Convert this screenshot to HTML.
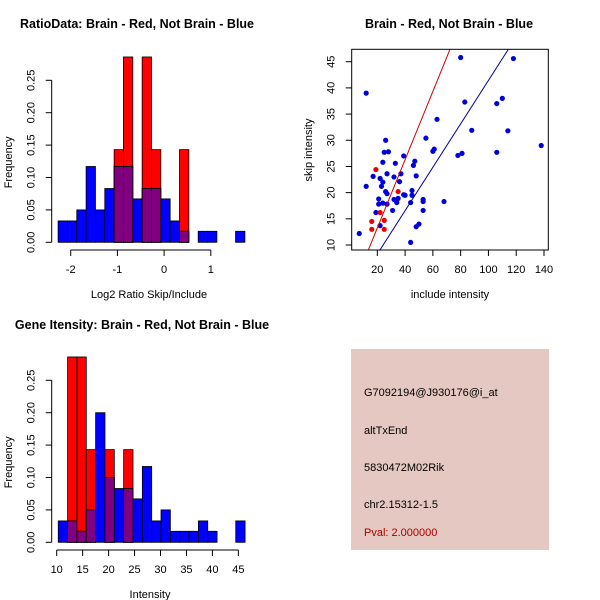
<!DOCTYPE html>
<html><head><meta charset="utf-8"><style>
body{margin:0;background:#fff;}
svg{display:block;font-family:"Liberation Sans",sans-serif;}
</style></head><body>
<svg id="c" width="600" height="600" xmlns="http://www.w3.org/2000/svg"></svg>
<script>
// Top histogram data (log2 ratio)
const ratioBinStart = -2.27;
const ratioBinWidth = 0.2;
const ratioBlue = [0.033,0.033,0.05,0.117,0.05,0.083,0.117,0.117,0.067,0.083,0.083,0.067,0.033,0.017,0,0.017,0.017,0,0,0.017];
const ratioRed  = [0,0,0,0,0,0,0.143,0.286,0,0.286,0.143,0,0,0.143,0,0,0,0,0,0];
const ratioXTicks = [-2,-1,0,1];
const freqTicks = [0,0.05,0.10,0.15,0.20,0.25];
const freqTickLabels = ["0.00","0.05","0.10","0.15","0.20","0.25"];
// Bottom histogram (intensity)
const intBinStart = 10.3;
const intBinWidth = 1.8;
const intBlue = [0.033,0.033,0.017,0.05,0.2,0.1,0.083,0.083,0.067,0.117,0.033,0.05,0.017,0.017,0.017,0.033,0.017,0,0,0.033];
const intRed  = [0,0.286,0.286,0.143,0,0.143,0,0.143,0,0,0,0,0,0,0,0,0,0,0,0];
const intXTicks = [10,15,20,25,30,35,40,45];
// Scatter
const blueInclude = [7,12,12,17,19,21,21,22,22,23,24,24,24,25,26,26,27,27,27,28,31,32,32,33,34,34,35,36,37,39,39,40,44,44,45,45,46,47,48,48,50,53,53,53,55,60,61,63,68,78,80,81,83,88,106,106,110,114,118,138];
const blueSkip = [12.2,39,21.2,23.1,16.2,17.8,18.8,22.7,13.7,21.2,22,18,25.8,27.7,30,20.2,19.8,23.6,17.8,27.8,16.6,23,18.7,25.6,18.1,18.6,18.9,22.1,23.6,27,19.6,19.5,18.1,10.5,20.4,19.5,25.2,26,23.2,13.5,14,16.6,18.3,18.7,30.4,27.9,28.3,34,18.3,27.1,45.8,27.5,37.3,31.9,27.7,37,38,31.8,45.6,29];
const redInclude = [19,16,16,22,25,25,35];
const redSkip = [24.4,14.5,13,16.2,14.7,13,20.2];
const redLine = [[13.5,9],[72.3,47.35]];
const blueLine = [[21.9,9.05],[114.3,47.35]];
const scXTicks = [20,40,60,80,100,120,140];
const scYTicks = [10,15,20,25,30,35,40,45];

const svg = document.getElementById('c');
const NS = 'http://www.w3.org/2000/svg';
function mk(tag, attrs, parent){const e=document.createElementNS(NS,tag);for(const k in attrs)e.setAttribute(k,attrs[k]);(parent||svg).appendChild(e);return e;}
function txt(s, attrs, parent){const e=mk('text',attrs,parent);e.textContent=s;return e;}

function hist(opt){
  const g = mk('g',{});
  
  
  const xs = v => opt.x0px + (v - opt.x0) * opt.pxPerX;
  const ys = v => opt.y0px - v * 648;
  for(let i=0;i<opt.blue.length;i++){
    const a = opt.binStart + i*opt.binWidth, b = a + opt.binWidth;
    const bl = opt.blue[i], rd = opt.red[i];
    const x1 = xs(a), x2 = xs(b);
    const draw=(h,col,nm)=>{ if(h<=0) return; const r=mk('rect',{x:x1,y:ys(h),width:x2-x1,height:ys(0)-ys(h),fill:col,stroke:'#000','stroke-width':0.8},g);
      
       };
    if(rd>=bl){ draw(rd,'#ff0000','red-bar'); draw(bl,'#0000ff','blue-bar'); if(bl>0&&rd>0) draw(bl,'#800080','overlap-bar'); }
    else { draw(bl,'#0000ff','blue-bar'); draw(rd,'#ff0000','red-bar'); if(bl>0&&rd>0) draw(rd,'#800080','overlap-bar'); }
  }
  const ax = opt.yAxisX;
  mk('line',{x1:ax,y1:ys(0),x2:ax,y2:ys(0.25),stroke:'#000'},g);
  freqTicks.forEach((t,i)=>{ mk('line',{x1:ax-6,y1:ys(t),x2:ax,y2:ys(t),stroke:'#000'},g);
    txt(freqTickLabels[i],{x:ax-17,y:ys(t),'font-size':11,'text-anchor':'middle',transform:`rotate(-90 ${ax-17} ${ys(t)})`},g);});
  const ay = opt.xAxisY;
  mk('line',{x1:xs(opt.xTicks[0]),y1:ay,x2:xs(opt.xTicks[opt.xTicks.length-1]),y2:ay,stroke:'#000'},g);
  opt.xTicks.forEach(t=>{ mk('line',{x1:xs(t),y1:ay,x2:xs(t),y2:ay+6,stroke:'#000'},g);
    txt(String(t),{x:xs(t),y:ay+23,'font-size':11,'text-anchor':'middle'},g);});
  const yl = txt('Frequency',{x:12,y:opt.y0px-80,'font-size':11,'text-anchor':'middle',transform:`rotate(-90 12 ${opt.y0px-80})`},g);
   
  const xl = txt(opt.xlab,{x:opt.xlabX,y:opt.xlabY,'font-size':11,'text-anchor':'middle'},g);
   
  const tt = txt(opt.title,{x:opt.titleX,y:opt.titleY,'font-size':12.5,'font-weight':'bold','text-anchor':'middle'},g);
   
}

hist({name:'ratio-histogram',blue:ratioBlue,red:ratioRed,binStart:ratioBinStart,binWidth:ratioBinWidth,
  x0:-2,x0px:70.7,pxPerX:46.7,y0px:242.3,yAxisX:51.7,xAxisY:250,xTicks:ratioXTicks,
  xlab:'Log2 Ratio Skip/Include',xlabX:149,xlabY:298,title:'RatioData: Brain - Red, Not Brain - Blue',titleX:137,titleY:28});
hist({name:'intensity-histogram',blue:intBlue,red:intRed,binStart:intBinStart,binWidth:intBinWidth,
  x0:10,x0px:56.7,pxPerX:5.19,y0px:542.3,yAxisX:51.7,xAxisY:550,xTicks:intXTicks,
  xlab:'Intensity',xlabX:150,xlabY:598,title:'Gene Itensity: Brain - Red, Not Brain - Blue',titleX:142,titleY:329});

// Scatter
(function(){
  const g = mk('g',{});
  
  
  const L=351.7,R=548.3,T=49.3,B=250;
  const xs = v => 377.3 + (v-20)*(166.7/120);
  const ys = v => 245 - (v-10)*(183.3/35);
  const cpEl = mk('clipPath',{id:'sc'},g);
  mk('rect',{x:L,y:T,width:R-L,height:B-T},cpEl);
  blueInclude.forEach((v,i)=>{ const c=mk('circle',{cx:xs(v),cy:ys(blueSkip[i]),r:2.6,fill:'#0000dd'},g);
     });
  redInclude.forEach((v,i)=>{ const c=mk('circle',{cx:xs(v),cy:ys(redSkip[i]),r:2.6,fill:'#ee0000'},g);
     });
  const rl=mk('line',{x1:xs(redLine[0][0]),y1:ys(redLine[0][1]),x2:xs(redLine[1][0]),y2:ys(redLine[1][1]),stroke:'#cc0000','clip-path':'url(#sc)'},g);
   
  const bl=mk('line',{x1:xs(blueLine[0][0]),y1:ys(blueLine[0][1]),x2:xs(blueLine[1][0]),y2:ys(blueLine[1][1]),stroke:'#000099','clip-path':'url(#sc)'},g);
   
  mk('rect',{x:L,y:T,width:R-L,height:B-T,fill:'none',stroke:'#000'},g);
  scXTicks.forEach(t=>{ mk('line',{x1:xs(t),y1:B,x2:xs(t),y2:B+6,stroke:'#000'},g);
    txt(String(t),{x:xs(t),y:B+23,'font-size':11,'text-anchor':'middle'},g);});
  scYTicks.forEach(t=>{ mk('line',{x1:L-6,y1:ys(t),x2:L,y2:ys(t),stroke:'#000'},g);
    txt(String(t),{x:L-17,y:ys(t),'font-size':11,'text-anchor':'middle',transform:`rotate(-90 ${L-17} ${ys(t)})`},g);});
  const xl=txt('include intensity',{x:450,y:298,'font-size':11,'text-anchor':'middle'},g);
   
  const yl=txt('skip intensity',{x:312,y:150,'font-size':11,'text-anchor':'middle',transform:'rotate(-90 312 150)'},g);
   
  const tt=txt('Brain - Red, Not Brain - Blue',{x:449,y:28,'font-size':12.5,'font-weight':'bold','text-anchor':'middle'},g);
   
})();

// Info box
(function(){
  const g=mk('g',{});
  
  
  mk('rect',{x:351,y:349,width:198,height:201,fill:'#e5c8c1'},g);
  const lines=[['G7092194@J930176@i_at',396,'#000','probe-id'],['altTxEnd',434,'#000','event-type'],['5830472M02Rik',471,'#000','gene-name'],['chr2.15312-1.5',508,'#000','location'],['Pval: 2.000000',536,'#aa0000','p-value']];
  lines.forEach(l=>{const t=txt(l[0],{x:364,y:l[1],'font-size':11,fill:l[2]},g);
     });
})();
</script>
</body></html>
